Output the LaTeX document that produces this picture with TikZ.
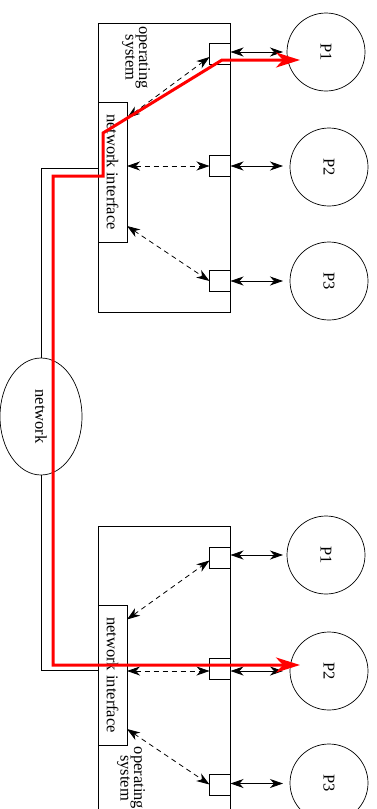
\documentclass[tikz,border=0pt]{standalone}
\usepackage{fontspec}
\setmainfont{Liberation Serif}
\usetikzlibrary{arrows.meta,shapes.geometric,calc}
\begin{document}
\begin{tikzpicture}[x=1pt,y=-1pt,
  every node/.style={font=\fontsize{16.5}{19}\selectfont},
  frame/.style={draw, line width=0.8pt, inner sep=0pt, outer sep=0pt},
  port/.style={frame, minimum size=21pt},
  proc/.style={draw, circle, line width=0.7pt, minimum size=78pt, inner sep=0pt, outer sep=0pt},
  rot/.style={rotate=-90, inner sep=0pt},
  tip/.tip={Stealth[length=13pt,width=9pt,inset=4pt]},
  link/.style={line width=0.8pt, tip-tip},
  dlink/.style={link, dash pattern=on 5pt off 4pt},
  route/.style={red, line width=3pt, {Stealth[length=24pt,width=15pt,inset=7pt]}-{Stealth[length=24pt,width=15pt,inset=7pt]}},
  wire/.style={line width=0.8pt}]
\useasboundingbox (0,0) rectangle (377,809);
\clip (0,0) rectangle (377,809);
% operating system boxes
\node[frame, minimum width=132pt, minimum height=289pt] (os1) at (164,167.5) {};
\node[frame, minimum width=132pt, minimum height=304pt] (os2) at (164,678) {};
\node[rot, align=center, font=\fontsize{16.5}{13.5}\selectfont] (ost1) at (136,57.5) {operating\\system};
\node[rot, align=center, font=\fontsize{16.5}{13.5}\selectfont] (ost2) at (131,778) {operating\\system};
% network interfaces
\node[frame, minimum width=29pt, minimum height=140pt] (ni1) at (112.5,172) {};
\node[rot] (nit1) at (ni1) {network interface};
\node[frame, minimum width=29pt, minimum height=140pt] (ni2) at (112.5,675) {};
\node[rot] (nit2) at (ni2) {network interface};
% ports
\node[port] (s1) at (220,53.5) {};
\node[port] (s2) at (220,166) {};
\node[port] (s3) at (220,281) {};
\node[port] (t1) at (220,557.5) {};
\node[port] (t2) at (220,668.5) {};
\node[port] (t3) at (220,784.5) {};
% processes
\node[proc] (p1) at (326,52) {};  \node[rot] (p1t) at (p1) {P1};
\node[proc] (p2) at (329,167) {}; \node[rot] (p2t) at (p2) {P2};
\node[proc] (p3) at (329,281) {}; \node[rot] (p3t) at (p3) {P3};
\node[proc] (q1) at (326,555) {}; \node[rot] (q1t) at (q1) {P1};
\node[proc] (q2) at (329,671) {}; \node[rot] (q2t) at (q2) {P2};
\node[proc] (q3) at (329,783) {}; \node[rot] (q3t) at (q3) {P3};
% network
\node[draw, ellipse, minimum width=82pt, minimum height=117pt, inner sep=0pt, line width=0.7pt] (net) at (41,416.5) {};
\node[rot] (nett) at (net) {network};
% port <-> process
\draw[link, shorten >=4pt] ([yshift=1.5pt]s1.east) -- ([yshift=1.5pt]s1.east -| p1.west);
\draw[link, shorten >=7pt] (s2.east) -- (s2.east -| p2.west);
\draw[link, shorten >=7pt] (s3.east) -- (s3.east -| p3.west);
\draw[link, shorten >=4pt] ([yshift=2.5pt]t1.east) -- ([yshift=2.5pt]t1.east -| q1.west);
\draw[link, shorten >=7pt] ([yshift=-2.5pt]t2.east) -- ([yshift=-2.5pt]t2.east -| q2.west);
\draw[link, shorten >=7pt] ([yshift=1pt]t3.east) -- ([yshift=1pt]t3.east -| q3.west);
% interface <-> port
\draw[dlink] ([yshift=54pt]ni1.east) -- ([yshift=-3.5pt]s1.west);
\draw[dlink] (ni1.east |- s2.west) -- (s2.west);
\draw[dlink] ([yshift=-54pt]ni1.east) -- (s3.west);
\draw[dlink] ([yshift=55.5pt]ni2.east) -- ([yshift=-3pt]t1.west);
\draw[dlink] ([yshift=-2.5pt]ni2.east |- t2.west) -- ([yshift=-2.5pt]t2.west);
\draw[dlink] ([yshift=-54pt]ni2.east) -- (t3.west);
% wires to network
\draw[wire] ([yshift=4pt]ni1.west) -| (net.north);
\draw[wire] ([yshift=5pt]ni2.west) -| (net.south);
% red route
\draw[route] ([xshift=-26pt,yshift=-8pt]p1.center) -- (222,60) -- (103,133) -- (103,176) -- (53,176) -- (53,665) -- ([xshift=-29pt,yshift=6pt]q2.center);
\end{tikzpicture}
\end{document}
